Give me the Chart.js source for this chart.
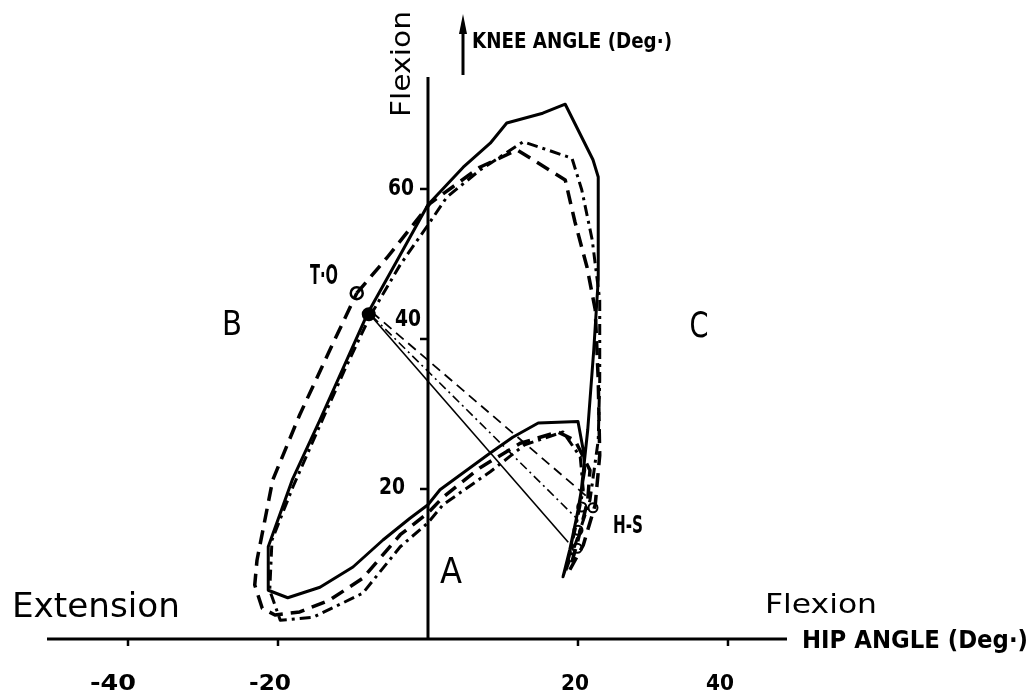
<!DOCTYPE html>
<html><head><meta charset="utf-8">
<script src="https://cdn.jsdelivr.net/npm/chart.js@4/dist/chart.umd.min.js"></script>
<style>html,body{margin:0;padding:0;background:#fff;}#c{display:block;}</style>
</head><body>
<canvas id="c" width="1036" height="694"></canvas>
<script>
// ---- data (hip angle, knee angle in degrees) ----
const solidHip  = [-8.0,-4.1,0,4.7,8.3,10.5,15.3,18.3,22.0,22.7,22.7,22.1,21.3,20.3,18.9,18.0,18.7,20.0,20.9,20.7,20.0,14.7,11.3,8.3,1.6,0,-2.4,-6.0,-10.0,-14.4,-18.7,-21.3,-21.3,-18.1,-14.4];
const solidKnee = [43.5,50.5,57.9,62.9,66.1,68.8,70.1,71.3,63.9,61.6,47.9,38.5,27.9,18.5,11.9,8.3,10.5,17.2,22.5,25.2,29.0,28.8,26.9,24.8,19.9,17.9,16.1,13.2,9.6,6.9,5.5,6.5,12.3,21.2,29.2];

const dashedHip  = [-9.5,-5.5,0.3,6.9,11.9,18.3,19.6,21.2,22.3,22.7,22.9,22.3,20.7,18.9,20.0,21.3,21.6,19.6,17.3,12.3,6.9,2.0,0,-3.7,-8.7,-13.1,-17.1,-20.4,-22.1,-23.1,-22.8,-20.7,-17.1,-13.1];
const dashedKnee = [46.1,50.8,58.1,62.9,65.2,61.2,55.6,49.6,43.9,34.5,24.5,17.9,12.5,9.2,13.2,18.5,22.5,26.5,27.6,26.1,22.8,18.9,16.8,13.9,8.1,5.2,3.6,3.2,4.1,7.2,10.5,21.2,29.9,38.5];

const dashDotHip  = [-7.7,-3.7,0,2.5,6.9,12.7,19.2,20.5,21.9,22.9,22.9,22.7,21.6,19.6,18.3,19.6,20.7,20.3,18.0,12.9,8.3,2.0,0,-3.7,-8.7,-15.3,-19.7,-21.1,-20.8,-18.0,-14.4,-11.1];
const dashDotKnee = [43.1,49.9,55.2,58.9,62.5,66.3,64.1,59.9,53.2,45.2,34.5,26.5,18.5,12.5,8.9,14.5,19.9,24.3,27.6,25.9,22.3,17.9,15.5,12.3,6.1,2.9,2.5,6.5,13.2,20.3,28.5,35.9];

// toe-off -> heel-strike connecting lines [start, end]
const solidChordHip   = [-7.7, 18.7];
const solidChordKnee  = [43.2, 12.9];
const dashedChordHip  = [-7.5, 21.3];
const dashedChordKnee = [43.6, 18.9];
const dashDotChordHip  = [-7.5, 20.0];
const dashDotChordKnee = [43.1, 15.9];

// event markers
const toOpenHip = [-9.5], toOpenKnee = [46.1];
const toDotHip = [-7.9], toDotKnee = [43.3];
const hsHip  = [20.5, 22.0, 20.0, 19.9];
const hsKnee = [17.6, 17.5, 14.5, 12.1];

// axis ticks
const xTickValues = [-40, -20, 20, 40];
const xTickLabels = ['-40', '-20', '20', '40'];
const yTickValues = [20, 40, 60];
const yTickLabels = ['20', '40', '60'];

const pts = (xs, ys, close) => {
  const p = xs.map((x, i) => ({x: x, y: ys[i]}));
  if (close) p.push({x: xs[0], y: ys[0]});
  return p;
};

// ---- drawing helpers ----
function txt(ctx, s, cx, cy, size, weight, width, rot) {
  ctx.save();
  ctx.font = weight + ' ' + size + 'px "DejaVu Sans"';
  const w = ctx.measureText(s).width;
  ctx.translate(cx, cy);
  if (rot) ctx.rotate(-Math.PI / 2);
  ctx.scale(width / w, 1);
  ctx.textAlign = 'center';
  ctx.textBaseline = 'alphabetic';
  ctx.fillStyle = '#000';
  ctx.fillText(s, 0, 0.365 * size);
  ctx.restore();
}
function seg(ctx, x1, y1, x2, y2) {
  ctx.beginPath(); ctx.moveTo(x1, y1); ctx.lineTo(x2, y2); ctx.stroke();
}

const xLabelShift = [-15, -8, -3, -8];
const xLabelWidth = [46, 42, 28, 28];
const yLabelDx = [-36, -20, -27];
const yLabelDy = [-3, -21, -2];

const deco = {
  id: 'deco',
  beforeDatasetsDraw(chart) {
    const ctx = chart.ctx, xs = chart.scales.x, ys = chart.scales.y, a = chart.chartArea;
    const x0 = xs.getPixelForValue(0), y0 = ys.getPixelForValue(0);
    ctx.save();
    ctx.strokeStyle = '#000'; ctx.lineWidth = 3; ctx.lineCap = 'butt';
    seg(ctx, a.left, y0, a.right, y0);
    seg(ctx, x0, a.top, x0, y0 + 1);
    ctx.lineWidth = 2.5;
    xTickValues.forEach(v => { const p = xs.getPixelForValue(v); seg(ctx, p, y0, p, y0 + 7); });
    yTickValues.forEach(v => { const p = ys.getPixelForValue(v); seg(ctx, x0 - 8, p, x0, p); });
    ctx.restore();
  },
  afterDatasetsDraw(chart) {
    const ctx = chart.ctx, xs = chart.scales.x, ys = chart.scales.y;
    const x0 = xs.getPixelForValue(0), y0 = ys.getPixelForValue(0);
    xTickValues.forEach((v, i) => {
      txt(ctx, xTickLabels[i], xs.getPixelForValue(v) + xLabelShift[i], y0 + 43, 21, 'bold', xLabelWidth[i]);
    });
    yTickValues.forEach((v, i) => {
      txt(ctx, yTickLabels[i], x0 + yLabelDx[i], ys.getPixelForValue(v) + yLabelDy[i], 23, 'bold', 26);
    });
    // titles and annotations
    txt(ctx, 'Flexion', 401, 64, 26, 'normal', 106, true);
    txt(ctx, 'KNEE ANGLE (Deg·)', 572, 40, 22, 'bold', 200);
    txt(ctx, 'HIP ANGLE (Deg·)', 915, 639, 24, 'bold', 226);
    txt(ctx, 'Extension', 96, 605, 34, 'normal', 168);
    txt(ctx, 'Flexion', 821, 603, 27, 'normal', 112);
    txt(ctx, 'B', 232, 323, 34, 'normal', 20);
    txt(ctx, 'C', 699, 324, 35, 'normal', 19);
    txt(ctx, 'A', 451, 570, 35, 'normal', 22);
    txt(ctx, 'T·O', 324, 275, 26, 'bold', 28);
    txt(ctx, 'H-S', 628, 524, 24, 'bold', 30);
    // knee-angle arrow
    ctx.save();
    ctx.strokeStyle = '#000'; ctx.fillStyle = '#000'; ctx.lineWidth = 3;
    seg(ctx, 463, 30, 463, 75);
    ctx.beginPath(); ctx.moveTo(463, 14); ctx.lineTo(459, 34); ctx.lineTo(467, 34); ctx.closePath(); ctx.fill();
    ctx.restore();
  }
};

const base = {showLine: true, pointRadius: 0, borderColor: '#000', tension: 0, clip: false, fill: false, borderJoinStyle: 'round'};

new Chart(document.getElementById('c').getContext('2d'), {
  type: 'scatter',
  data: {
    datasets: [
      Object.assign({}, base, {data: pts(solidHip, solidKnee, true), borderWidth: 3}),
      Object.assign({}, base, {data: pts(dashedHip, dashedKnee, true), borderWidth: 3.5, borderDash: [14, 8]}),
      Object.assign({}, base, {data: pts(dashDotHip, dashDotKnee, true), borderWidth: 3, borderDash: [11, 5, 3, 5]}),
      Object.assign({}, base, {data: pts(solidChordHip, solidChordKnee), borderWidth: 1.6}),
      Object.assign({}, base, {data: pts(dashedChordHip, dashedChordKnee), borderWidth: 1.8, borderDash: [10, 6]}),
      Object.assign({}, base, {data: pts(dashDotChordHip, dashDotChordKnee), borderWidth: 1.6, borderDash: [9, 4, 2, 4]}),
      {data: pts(toOpenHip, toOpenKnee), showLine: false, pointRadius: 6, pointBorderWidth: 2.5, pointBorderColor: '#000', pointBackgroundColor: '#fff', clip: false},
      {data: pts(toDotHip, toDotKnee), showLine: false, pointRadius: 6, pointBorderWidth: 2, pointBorderColor: '#000', pointBackgroundColor: '#000', clip: false},
      {data: pts(hsHip, hsKnee), showLine: false, pointRadius: 4.5, pointBorderWidth: 2, pointBorderColor: '#000', pointBackgroundColor: '#fff', clip: false}
    ]
  },
  options: {
    responsive: false, animation: false, devicePixelRatio: 1,
    layout: {padding: {left: 47, right: 249, top: 77, bottom: 55}},
    scales: {
      x: {type: 'linear', min: -50.8, max: 47.87, display: false},
      y: {type: 'linear', min: 0, max: 74.93, display: false}
    },
    plugins: {legend: {display: false}, tooltip: {enabled: false}}
  },
  plugins: [deco]
});
</script>
</body></html>
